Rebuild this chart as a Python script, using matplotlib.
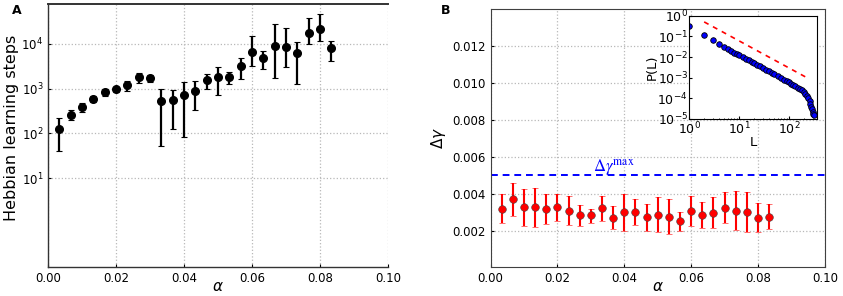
import matplotlib
matplotlib.use("Agg")
import matplotlib.pyplot as plt
import numpy as np

# panel A: Hebbian learning steps vs alpha (log scale)
alpha = np.arange(1, 26) / 300.0
steps = [128, 260, 385, 583, 822, 960, 1225, 1820, 1730, 517, 545, 730, 897,
         1530, 1850, 1850, 3270, 6620, 4850, 9020, 8570, 6280, 17900, 21700, 8000]
steps_hi = [224, 340, 470, 680, 960, 1100, 1450, 2200, 2050, 1000, 950, 1400, 1460,
            2130, 3000, 2400, 4930, 15100, 6850, 27600, 22500, 11100, 37700, 45500, 11700]
steps_lo = [41, 195, 300, 490, 680, 830, 900, 1350, 1400, 51, 124, 83, 336,
            980, 720, 1290, 1600, 3210, 2800, 1700, 3000, 1250, 9700, 11900, 4100]

# panel B: delta gamma vs alpha
dgam = [0.00319, 0.00369, 0.00326, 0.00326, 0.00319, 0.00326, 0.00308, 0.00285,
        0.00283, 0.00321, 0.00268, 0.00299, 0.00301, 0.00272, 0.00285, 0.00274,
        0.00250, 0.00308, 0.00285, 0.00297, 0.00324, 0.00308, 0.00301, 0.00270, 0.00276]
dgam_hi = [0.00396, 0.00460, 0.00427, 0.00429, 0.00400, 0.00400, 0.00387, 0.00339,
           0.00319, 0.00387, 0.00333, 0.00396, 0.00369, 0.00344, 0.00380, 0.00373,
           0.00301, 0.00387, 0.00355, 0.00382, 0.00409, 0.00414, 0.00409, 0.00348, 0.00342]
dgam_lo = [0.00240, 0.00280, 0.00225, 0.00222, 0.00238, 0.00252, 0.00229, 0.00223,
           0.00241, 0.00254, 0.00207, 0.00195, 0.00229, 0.00200, 0.00190, 0.00180,
           0.00200, 0.00223, 0.00214, 0.00214, 0.00243, 0.00205, 0.00193, 0.00190, 0.00211]
dgam_max = 0.005

# inset: P(L)
L = [1, 2, 3, 4, 5, 6, 7, 8, 9, 10, 12, 14, 16, 18, 20, 23, 26, 30, 35, 40, 45, 50,
     60, 70, 80, 90, 100, 110, 120, 135, 150, 165, 180, 200, 215, 230, 245, 260,
     270, 280, 290, 300, 310, 320]
PL = [0.33, 0.117, 0.069, 0.043, 0.031, 0.0234, 0.019, 0.0162, 0.0141, 0.0126,
      0.0100, 0.0081, 0.0068, 0.0058, 0.0050, 0.0042, 0.00355, 0.00295, 0.0024,
      0.00204, 0.00174, 0.00151, 0.0012, 0.00098, 0.00081, 0.00069, 0.00059,
      0.00051, 0.000457, 0.00039, 0.00033, 0.00028, 0.00024, 0.000195, 0.000166,
      0.000135, 0.000105, 7.2e-5, 5.5e-5, 4.0e-5, 3.0e-5, 2.24e-5, 1.8e-5, 1.5e-5]
L_fit = [2, 230]
P_fit = [0.5, 1.0e-3]

plt.rcParams['xtick.direction'] = 'in'
plt.rcParams['ytick.direction'] = 'in'
plt.rcParams['font.size'] = 8.5

fig = plt.figure(figsize=(8.43, 2.96), dpi=100)
axA = fig.add_axes([0.0569, 0.0963, 0.4034, 0.8902])
axB = fig.add_axes([0.5819, 0.0963, 0.3967, 0.8733])
axI = fig.add_axes([0.8175, 0.598, 0.1515, 0.349])

gridkw = dict(color='0.72', linestyle=':', linewidth=0.9)

# --- A
yerrA = [np.array(steps) - np.array(steps_lo), np.array(steps_hi) - np.array(steps)]
axA.errorbar(alpha, steps, yerr=yerrA, fmt='o', color='black', ms=5.5, elinewidth=1.6,
             capsize=2, capthick=0.8, ecolor='black')
axA.set_yscale('log')
axA.set_xlim(0, 0.1)
axA.set_ylim(0.1, 7.8e4)
axA.set_yticks([10, 100, 1e3, 1e4])
axA.yaxis.set_minor_locator(matplotlib.ticker.NullLocator())
axA.set_xticks(np.arange(0, 0.101, 0.02))
axA.xaxis.set_major_formatter(matplotlib.ticker.FormatStrFormatter('%.2f'))
axA.grid(True, **gridkw)
axA.spines['right'].set_visible(False)
for s in ['left', 'bottom', 'top']:
    axA.spines[s].set_color('0.2')
    axA.spines[s].set_linewidth(1.0)
axA.spines['top'].set_linewidth(1.4)
axA.tick_params(length=2, labelsize=8.5)
axA.set_ylabel('Hebbian learning steps', fontsize=11.5)
axA.yaxis.set_label_coords(-0.085, 0.53)
axA.set_xlabel(r'$\alpha$', fontsize=11)
axA.xaxis.set_label_coords(0.5, -0.045)
fig.text(0.014, 0.965, 'A', fontsize=9, fontweight='bold', va='center')

# --- B
yerrB = [np.array(dgam) - np.array(dgam_lo), np.array(dgam_hi) - np.array(dgam)]
axB.errorbar(alpha, dgam, yerr=yerrB, fmt='o', color='red', mec='0.25', mew=0.4, ms=5.5,
             elinewidth=1.5, capsize=2, capthick=0.8, ecolor='red')
axB.axhline(dgam_max, color='blue', linestyle='--', linewidth=1.4, dashes=(3.5, 2.5))
axB.text(0.0305, 0.0052, r'$\Delta\gamma^{\rm max}$', color='blue', fontsize=12,
         math_fontfamily='stix', va='baseline')
axB.set_xlim(0, 0.1)
axB.set_ylim(0, 0.014)
axB.set_yticks([0.002, 0.004, 0.006, 0.008, 0.010, 0.012])
axB.yaxis.set_major_formatter(matplotlib.ticker.FormatStrFormatter('%.3f'))
axB.set_xticks(np.arange(0, 0.101, 0.02))
axB.xaxis.set_major_formatter(matplotlib.ticker.FormatStrFormatter('%.2f'))
axB.grid(True, **gridkw)
for s in axB.spines.values():
    s.set_color('0.25')
axB.tick_params(length=2, labelsize=8.5)
axB.set_ylabel(r'$\Delta\gamma$', fontsize=11)
axB.yaxis.set_label_coords(-0.128, 0.5)
axB.set_xlabel(r'$\alpha$', fontsize=11)
axB.xaxis.set_label_coords(0.5, -0.045)
fig.text(0.523, 0.965, 'B', fontsize=9, fontweight='bold', va='center')

# --- inset
axI.loglog(L, PL, 'o', color='blue', mec='black', mew=0.6, ms=4)
axI.loglog(L_fit, P_fit, '--', color='red', linewidth=1.2, dashes=(3, 3))
axI.set_xlim(1, 365)
axI.set_ylim(1e-5, 1)
axI.yaxis.set_major_locator(matplotlib.ticker.LogLocator(base=10, numticks=10))
axI.yaxis.set_minor_locator(matplotlib.ticker.NullLocator())
axI.tick_params(labelsize=9, length=2, pad=1)
axI.tick_params(which='minor', length=1)
axI.set_ylabel('P(L)', fontsize=9.5, labelpad=-1)
axI.set_xlabel('L', fontsize=9.5, labelpad=-1)

fig.savefig('out.png', dpi=100)
